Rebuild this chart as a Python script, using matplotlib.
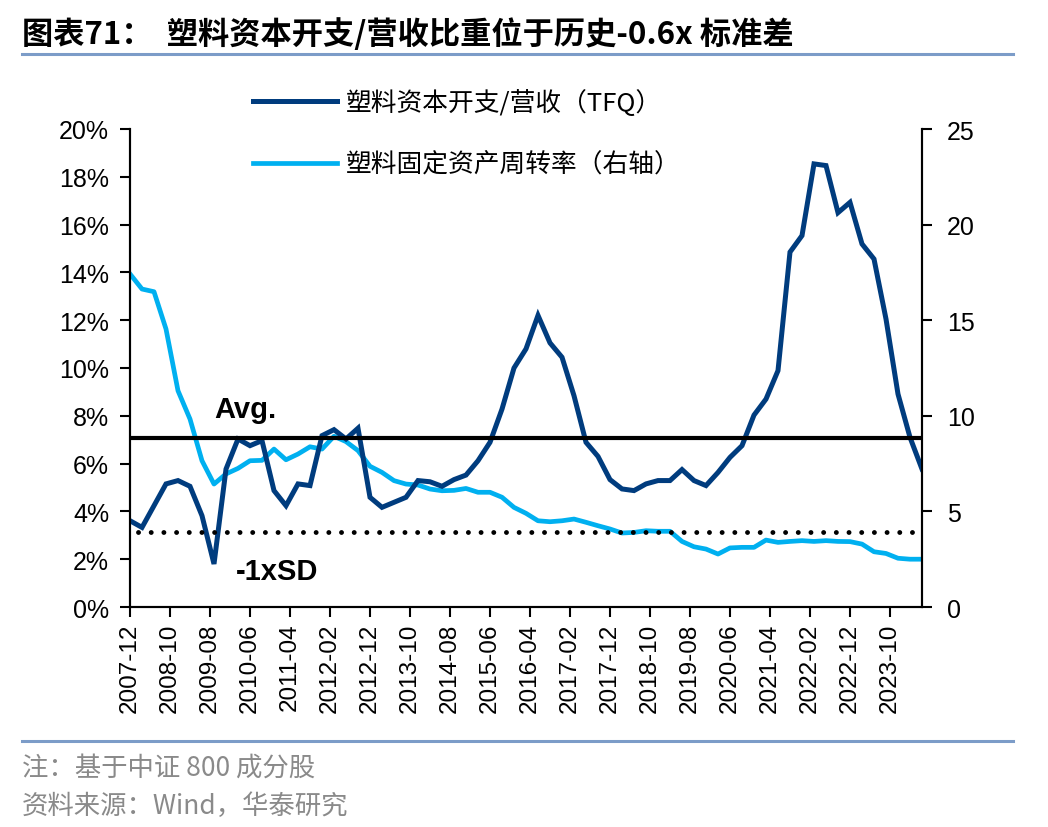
import numpy as np
import matplotlib
matplotlib.use('Agg')
import matplotlib.pyplot as plt
from matplotlib.lines import Line2D

plt.rcParams['font.family'] = ['Liberation Sans', 'Noto Sans CJK SC']

# quarterly data, 2007-12 .. 2024-06
start_year, start_month = 2007, 12
capex_ratio = [3.61, 3.33, 4.24, 5.15, 5.29, 5.05, 3.82, 1.80, 5.77, 7.03,
               6.75, 6.96, 4.87, 4.24, 5.15, 5.08, 7.17, 7.42, 7.03, 7.48,
               4.59, 4.17, 4.38, 4.59, 5.29, 5.24, 5.05, 5.33, 5.52, 6.12,
               6.89, 8.28, 10.0, 10.8, 12.2, 11.05, 10.45, 8.84, 6.89, 6.30,
               5.33, 4.94, 4.87, 5.15, 5.29, 5.29, 5.75, 5.29, 5.08, 5.63,
               6.26, 6.75, 8.03, 8.70, 9.89, 14.85, 15.54, 18.54, 18.47, 16.50,
               16.93, 15.19, 14.56, 12.05, 8.91, 7.10, 5.77]
asset_turnover = [17.42, 16.63, 16.49, 14.54, 11.31, 9.83, 7.65, 6.43, 6.96, 7.25,
                  7.65, 7.67, 8.26, 7.70, 8.00, 8.38, 8.26, 8.93, 8.65, 8.18,
                  7.36, 7.04, 6.61, 6.43, 6.38, 6.17, 6.08, 6.10, 6.20, 6.00,
                  6.00, 5.74, 5.21, 4.90, 4.51, 4.46, 4.51, 4.60, 4.43, 4.25,
                  4.08, 3.87, 3.90, 3.99, 3.96, 3.96, 3.43, 3.15, 3.03, 2.77,
                  3.09, 3.12, 3.12, 3.50, 3.38, 3.43, 3.47, 3.43, 3.47, 3.43,
                  3.42, 3.29, 2.89, 2.80, 2.55, 2.50, 2.50]
avg_level = 7.06
sd_level = 3.15

dark = '#003C7E'
light = '#00B0F0'

months = np.arange(len(capex_ratio)) * 3
tick_months = np.arange(0, 191, 10)
tick_labels = []
for m in tick_months:
    t = start_year * 12 + (start_month - 1) + m
    tick_labels.append('%d-%02d' % (t // 12, t % 12 + 1))

fig = plt.figure(figsize=(10.48, 8.28), dpi=100)
ax = fig.add_axes([130/1048, 1-608/828, 792/1048, 478/828])
ax2 = ax.twinx()

l1, = ax.plot(months, capex_ratio, color=dark, lw=3.6, solid_joinstyle='miter')
l2, = ax2.plot(months, asset_turnover, color=light, lw=3.4)
ax.axhline(avg_level, color='black', lw=3.0)
ax.axhline(sd_level, color='black', lw=3.5, linestyle=(0, (0.01, 2.6)),
           dash_capstyle='round', xmin=0.01, xmax=0.99)

ax.set_xlim(0, months[-1])
ax.set_ylim(0, 20)
ax2.set_ylim(0, 25)
ax.set_yticks(np.arange(0, 21, 2))
ax.set_yticklabels(['%d%%' % v for v in range(0, 21, 2)])
ax2.set_yticks(np.arange(0, 26, 5))
ax.set_xticks(tick_months)
ax.set_xticklabels(tick_labels, rotation=90)

for a in (ax, ax2):
    a.spines['top'].set_visible(False)
    for s in ('left', 'right', 'bottom'):
        a.spines[s].set_linewidth(1.5)
    a.tick_params(direction='out', length=7, width=1.5, labelsize=18, pad=8)
ax.tick_params(axis='x', labelsize=17.5, pad=4)
ax2.tick_params(axis='y', pad=11)
ax.set_zorder(ax2.get_zorder() + 1)
ax.patch.set_visible(False)

ax.text(21, 7.95, 'Avg.', fontsize=21, fontweight='bold', va='baseline')
ax.text(26.5, 1.17, '-1xSD', fontsize=21, fontweight='bold', va='baseline')

leg = fig.legend([l1, l2], ['塑料资本开支/营收（TFQ）', '塑料固定资产周转率（右轴）'],
                 loc='upper left', bbox_to_anchor=(253/1048, 1-90/828),
                 frameon=False, handlelength=3.25, borderpad=0, borderaxespad=0,
                 handletextpad=0.36, labelspacing=1.4,
                 prop={'family': ['Noto Sans CJK SC'], 'size': 18.5})

fig.text(22/1048, 1-35/828, '图表71：  塑料资本开支/营收比重位于历史-0.6x 标准差',
         fontsize=22.5, fontweight='bold', va='center', family=['Noto Sans CJK SC'])
fig.add_artist(Line2D([22/1048, 1013/1048], [1-55/828, 1-55/828],
                      color='#7C9CC8', lw=2.2))
fig.add_artist(Line2D([22/1048, 1013/1048], [1-742/828, 1-742/828],
                      color='#7C9CC8', lw=2.2))
fig.text(22/1048, 1-768/828, '注：基于中证 800 成分股', fontsize=19, color='#8A8A8A',
         va='center', family=['Noto Sans CJK SC'])
fig.text(22/1048, 1-806/828, '资料来源：Wind，华泰研究', fontsize=19, color='#8A8A8A',
         va='center', family=['Noto Sans CJK SC'])

fig.savefig('out.png', dpi=100)
